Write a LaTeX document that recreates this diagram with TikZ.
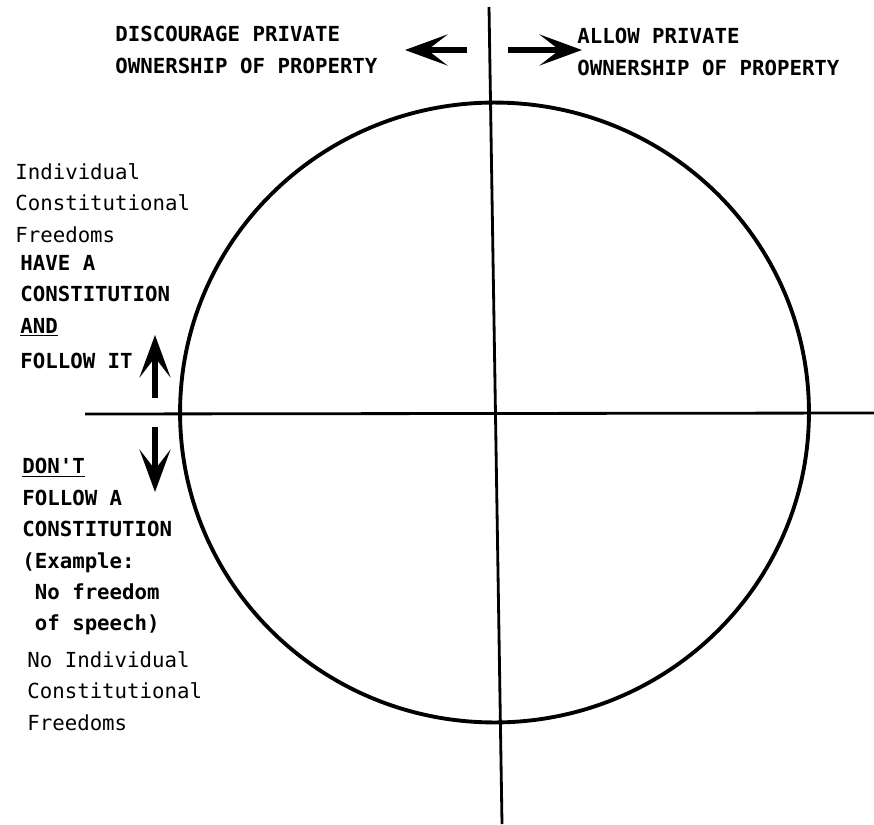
\documentclass[tikz,border=0pt]{standalone}
\usepackage{fontspec}
\setmonofont{DejaVu Sans Mono}
\usetikzlibrary{arrows.meta}

\begin{document}
\begin{tikzpicture}[
    x=0.02cm, y=-0.02cm,
    lbl/.style={anchor=north west, inner sep=0pt, align=left, font=\ttfamily\fontsize{11.8}{17.9}\selectfont},
    caps/.style={lbl, font=\ttfamily\bfseries\fontsize{11.8}{17.9}\selectfont},
    axis/.style={line width=1.6pt},
    ring/.style={line width=2.2pt},
    arr/.style={-{Stealth[length=0.85cm, width=0.62cm, inset=0.4cm]}, line width=3pt}
]
\useasboundingbox (0,0) rectangle (874,824);

\coordinate (T) at (489,7);
\coordinate (B) at (502,824);
\coordinate (L) at (85,414);
\coordinate (R) at (874,413);
\coordinate (C) at (494.5,412.5);

\draw[axis] (T) -- (B);
\draw[axis] (L) -- (R);
\draw[ring] (C) ellipse [x radius=6.29cm, y radius=6.2cm];

\node[caps] (disc) at (115,26) {DISCOURAGE PRIVATE\\OWNERSHIP OF PROPERTY};
\node[caps] (allow) at (577,28) {ALLOW PRIVATE\\OWNERSHIP OF PROPERTY};

\node[lbl] (free) at (15,163) {Individual\\Constitutional\\Freedoms};
\node[caps] (have) at (20,255) {HAVE A\\CONSTITUTION\\\underline{AND}\\[2pt]FOLLOW IT};
\node[caps] (dont) at (22,458) {\underline{DON'T}\\FOLLOW A\\CONSTITUTION\\(Example:\\\ No freedom\\\ of speech)};
\node[lbl] (nofree) at (27,651) {No Individual\\Constitutional\\Freedoms};

\coordinate (lt) at (467,50);
\coordinate (lh) at (405,50);
\coordinate (rt) at (508,50);
\coordinate (rh) at (582,50);
\coordinate (ut) at (155,398);
\coordinate (uh) at (155,335);
\coordinate (dt) at (155,427);
\coordinate (dh) at (155,492);

\draw[arr] (lt) -- (lh);
\draw[arr] (rt) -- (rh);
\draw[arr] (ut) -- (uh);
\draw[arr] (dt) -- (dh);
\end{tikzpicture}
\end{document}
